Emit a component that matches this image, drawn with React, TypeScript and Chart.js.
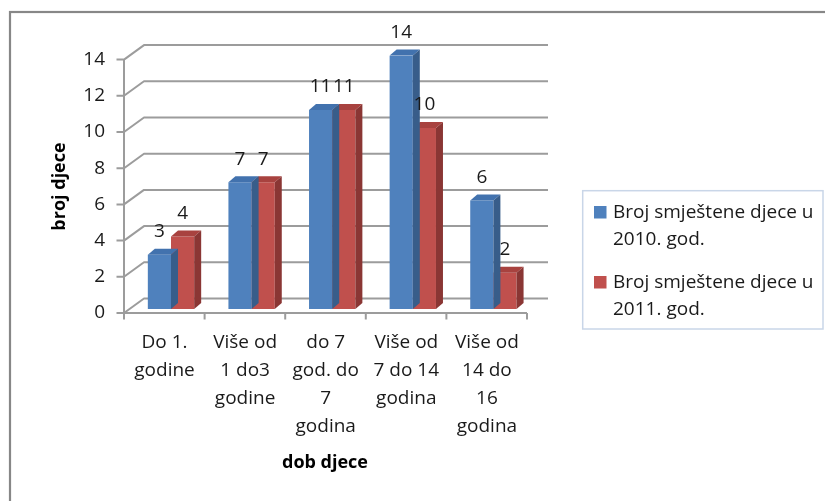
import { useEffect, useRef } from "react";
import { Chart, registerables } from "chart.js";

Chart.register(...registerables);

const categories: string[][] = [
  ["Do 1.", "godine"],
  ["Više od", "1 do3", "godine"],
  ["do 7", "god. do", "7", "godina"],
  ["Više od", "7 do 14", "godina"],
  ["Više od", "14 do", "16", "godina"],
];
const series2010 = [3, 7, 11, 14, 6];
const series2011 = [4, 7, 11, 10, 2];
const seriesNames: string[][] = [
  ["Broj smještene djece u", "2010. god."],
  ["Broj smještene djece u", "2011. god."],
];
const yTicks = [0, 2, 4, 6, 8, 10, 12, 14];
const yTitle = "broj djece";
const xTitle = "dob djece";

const FONT = "'Open Sans', sans-serif";
const TEXT = "#1a1a1a";
const GRID = "#9c9c9c";
const FRONT = { dx: -6.7, dy: 4 };
const BACK = { dx: 13.3, dy: -10.5 };
const DEPTH = { dx: 7, dy: -6 };
const COLORS = [
  { front: "#4F81BD", top: "#4272AE", side: "#385D8A" },
  { front: "#C0504D", top: "#A8423F", side: "#8A3634" },
];

function line(ctx: CanvasRenderingContext2D, x1: number, y1: number, x2: number, y2: number) {
  ctx.beginPath();
  ctx.moveTo(x1, y1);
  ctx.lineTo(x2, y2);
  ctx.stroke();
}

const excel3d = {
  id: "excel3d",
  beforeDraw(chart: any) {
    const { ctx, width, height } = chart;
    ctx.save();
    ctx.fillStyle = "#ffffff";
    ctx.fillRect(0, 0, width, height);
    ctx.strokeStyle = "#878787";
    ctx.lineWidth = 2.2;
    ctx.strokeRect(10, 12, width + 50, height + 50);
    ctx.restore();
  },
  beforeDatasetsDraw(chart: any) {
    const { ctx } = chart;
    const x = chart.scales.x;
    const y = chart.scales.y;
    const fl = x.left + FRONT.dx;
    const bl = x.left + BACK.dx;
    const br = x.right + BACK.dx + 1;
    ctx.save();
    ctx.strokeStyle = GRID;
    ctx.lineWidth = 2;
    ctx.lineJoin = "round";
    yTicks.forEach((v) => {
      const p = y.getPixelForValue(v);
      const fy = p + FRONT.dy;
      const by = p + BACK.dy;
      ctx.beginPath();
      ctx.moveTo(fl - 7.5, fy);
      ctx.lineTo(fl, fy);
      ctx.lineTo(bl, by);
      ctx.lineTo(br, by);
      ctx.stroke();
    });
    const y0 = y.getPixelForValue(0) + FRONT.dy;
    const yMax = y.getPixelForValue(yTicks[yTicks.length - 1]) + FRONT.dy;
    line(ctx, fl, yMax, fl, y0);
    line(ctx, fl, y0, x.right + FRONT.dx, y0);
    const n = categories.length;
    for (let i = 0; i <= n; i++) {
      const px = fl + (x.width * i) / n;
      line(ctx, px, y0, px, y0 + 6.5);
    }
    ctx.restore();
  },
  afterDatasetDraw(chart: any, args: any) {
    const { ctx } = chart;
    const c = COLORS[args.index];
    ctx.save();
    args.meta.data.forEach((bar: any) => {
      const { x, y, base, width } = bar.getProps(["x", "y", "base", "width"], true);
      const l = x - width / 2;
      const r = x + width / 2;
      ctx.fillStyle = c.top;
      ctx.beginPath();
      ctx.moveTo(l, y);
      ctx.lineTo(l + DEPTH.dx, y + DEPTH.dy);
      ctx.lineTo(r + DEPTH.dx, y + DEPTH.dy);
      ctx.lineTo(r, y);
      ctx.closePath();
      ctx.fill();
      ctx.fillStyle = c.side;
      ctx.beginPath();
      ctx.moveTo(r, y);
      ctx.lineTo(r + DEPTH.dx, y + DEPTH.dy);
      ctx.lineTo(r + DEPTH.dx, base + DEPTH.dy);
      ctx.lineTo(r, base);
      ctx.closePath();
      ctx.fill();
    });
    ctx.restore();
  },
  afterDatasetsDraw(chart: any) {
    const { ctx } = chart;
    ctx.save();
    // data labels
    ctx.font = `19px ${FONT}`;
    ctx.fillStyle = TEXT;
    ctx.textAlign = "center";
    ctx.textBaseline = "middle";
    chart.data.datasets.forEach((ds: any, di: number) => {
      const meta = chart.getDatasetMeta(di);
      meta.data.forEach((bar: any, i: number) => {
        const { x, y } = bar.getProps(["x", "y"], true);
        ctx.fillText(String(ds.data[i]), x, y - 23);
      });
    });
    // axis titles
    ctx.font = `bold 18px ${FONT}`;
    ctx.fillStyle = "#000";
    ctx.fillText(xTitle, 325, 463);
    ctx.save();
    ctx.translate(60, 186.5);
    ctx.rotate(-Math.PI / 2);
    ctx.fillText(yTitle, 0, 0);
    ctx.restore();
    // legend
    ctx.strokeStyle = "#c9d6e8";
    ctx.lineWidth = 1.5;
    ctx.strokeRect(582.7, 190.7, 240.3, 138.3);
    ctx.font = `19px ${FONT}`;
    ctx.textAlign = "left";
    ctx.fillStyle = TEXT;
    const tops = [206, 276];
    chart.data.datasets.forEach((ds: any, di: number) => {
      const t = tops[di];
      ctx.fillStyle = ds.backgroundColor;
      ctx.fillRect(594, t, 12.5, 12.5);
      ctx.fillStyle = TEXT;
      seriesNames[di].forEach((ln, li) => {
        ctx.fillText(ln, 613, t + 6.5 + li * 27.5);
      });
    });
    ctx.restore();
  },
};

export default function App() {
  const ref = useRef<HTMLCanvasElement | null>(null);
  useEffect(() => {
    if (!ref.current) return;
    const chart = new Chart(ref.current, {
      type: "bar",
      data: {
        labels: categories as any,
        datasets: [
          {
            label: seriesNames[0].join(" "),
            data: series2010,
            backgroundColor: COLORS[0].front,
            borderWidth: 0,
            barPercentage: 1,
            categoryPercentage: 0.575,
          },
          {
            label: seriesNames[1].join(" "),
            data: series2011,
            backgroundColor: COLORS[1].front,
            borderWidth: 0,
            barPercentage: 1,
            categoryPercentage: 0.575,
          },
        ],
      },
      options: {
        responsive: false,
        animation: false,
        devicePixelRatio: 1,
        layout: { padding: { top: 55.6, right: 291.3, bottom: 0, left: 0 } },
        plugins: {
          legend: { display: false },
          tooltip: { enabled: false },
          title: { display: false },
        },
        scales: {
          x: {
            grid: { display: false, drawTicks: false },
            border: { display: false },
            afterFit: (s: any) => {
              s.height = 192;
            },
            ticks: {
              padding: 20,
              labelOffset: -6.5,
              maxRotation: 0,
              autoSkip: false,
              color: TEXT,
              font: { family: "'Open Sans', sans-serif", size: 19, lineHeight: 1.47 },
            },
          },
          y: {
            min: 0,
            max: 14,
            grid: { display: false, drawTicks: false },
            border: { display: false },
            afterFit: (s: any) => {
              s.width = 130.7;
            },
            ticks: {
              stepSize: 2,
              padding: 25.7,
              labelOffset: 4,
              color: TEXT,
              font: { family: "'Open Sans', sans-serif", size: 19 },
            },
          },
        },
      },
      plugins: [excel3d],
    });
    return () => chart.destroy();
  }, []);
  return (
    <div style={{ position: "fixed", left: 0, top: 0, width: 825, height: 501, background: "#fff" }}>
      <canvas ref={ref} width={825} height={501} style={{ display: "block" }} />
    </div>
  );
}
